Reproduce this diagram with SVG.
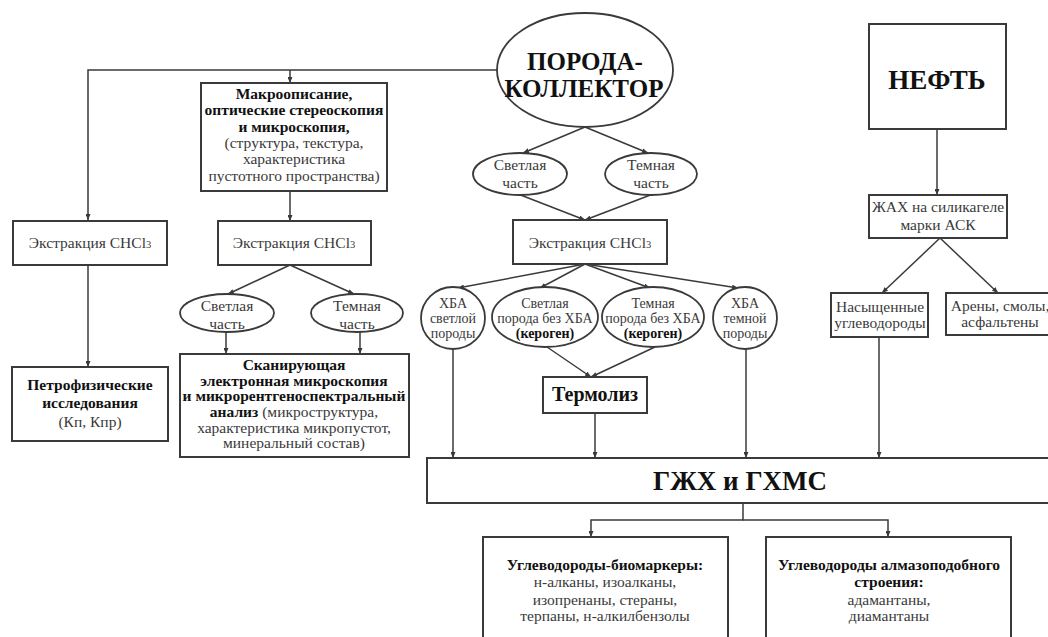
<svg xmlns="http://www.w3.org/2000/svg" width="1048" height="637" viewBox="0 0 1048 637">
<style>
  .box { fill: #fff; stroke: #3a3a3a; stroke-width: 2; }
  .ell { fill: #fff; stroke: #3a3a3a; stroke-width: 1.8; }
  .t { font-family: "Liberation Serif", "Times New Roman", serif; font-size: 15.5px; fill: #3a3a3a; text-anchor: middle; }
  .b { font-weight: bold; fill: #111; }
  .s { font-size: 15.5px; }
  .xs { font-size: 14px; }
  .tm { font-size: 20px; }
  .big { font-family: "Liberation Serif", "Times New Roman", serif; font-size: 27px; font-weight: bold; fill: #111; text-anchor: middle; }
  .pk { font-size: 25px; }
  .con { fill: none; stroke: #3a3a3a; stroke-width: 1.5; }
  .arr { marker-end: url(#ah); }
</style>
<defs>
  <marker id="ah" markerUnits="userSpaceOnUse" markerWidth="6" markerHeight="5" refX="6" refY="2.5" orient="auto">
    <path d="M0,0 L6,2.5 L0,5 z" fill="#3a3a3a"/>
  </marker>
</defs>
<rect width="1048" height="637" fill="#fff"/>

<g id="connectors">
  <path class="con arr" d="M497,70 H88 V220"/>
  <path class="con arr" d="M290,70 V83"/>
  <path class="con arr" d="M88,265 V367"/>
  <path class="con arr" d="M290,191 V221"/>
  <path class="con arr" d="M290,265 L228,294"/>
  <path class="con arr" d="M290,265 L354,294"/>
  <path class="con arr" d="M226,332 V354"/>
  <path class="con arr" d="M360,332 V354"/>
  <path class="con arr" d="M585,127 L523,153"/>
  <path class="con arr" d="M585,127 L648,153"/>
  <path class="con arr" d="M518,194 L585,220"/>
  <path class="con arr" d="M653,194 L585,220"/>
  <path class="con arr" d="M585,264 L458,288"/>
  <path class="con arr" d="M585,264 L540,288"/>
  <path class="con arr" d="M585,264 L650,288"/>
  <path class="con arr" d="M585,264 L738,288"/>
  <path class="con arr" d="M547,347 L591,377"/>
  <path class="con arr" d="M655,347 L591,377"/>
  <path class="con arr" d="M453,349 V458"/>
  <path class="con arr" d="M595,413 V458"/>
  <path class="con arr" d="M746,349 V458"/>
  <path class="con arr" d="M879,337 V458"/>
  <path class="con arr" d="M937,129 V195"/>
  <path class="con arr" d="M940,238 L882,293"/>
  <path class="con arr" d="M940,238 L998,293"/>
  <path class="con arr" d="M743,503 V520 H591 V537"/>
  <path class="con arr" d="M743,520 H888 V537"/>
</g>

<g id="poroda">
  <ellipse class="ell" cx="585" cy="70" rx="88" ry="57"/>
  <text class="big pk" x="585" y="70">ПОРОДА-</text>
  <text class="big pk" x="584" y="97">КОЛЛЕКТОР</text>
</g>

<g id="macro">
  <rect class="box" x="201" y="83" width="186" height="108"/>
  <text class="t b" x="294" y="99">Макроописание,</text>
  <text class="t b" x="294" y="115">оптические стереоскопия</text>
  <text class="t b" x="294" y="132">и микроскопия,</text>
  <text class="t" x="294" y="148">(структура, текстура,</text>
  <text class="t" x="294" y="164">характеристика</text>
  <text class="t" x="294" y="181">пустотного пространства)</text>
</g>

<g id="extr1">
  <rect class="box" x="13" y="221" width="154" height="44"/>
  <text class="t" x="90" y="248">Экстракция CHCl<tspan font-size="10.5">3</tspan></text>
</g>

<g id="extr2">
  <rect class="box" x="218" y="221" width="153" height="44"/>
  <text class="t" x="294" y="248">Экстракция CHCl<tspan font-size="10.5">3</tspan></text>
</g>

<g id="light2">
  <ellipse class="ell" cx="227" cy="313" rx="47" ry="19"/>
  <text class="t s" x="227" y="311">Светлая</text>
  <text class="t s" x="227" y="329">часть</text>
</g>

<g id="dark2">
  <ellipse class="ell" cx="357" cy="313" rx="46" ry="19"/>
  <text class="t s" x="357" y="311">Темная</text>
  <text class="t s" x="357" y="329">часть</text>
</g>

<g id="petro">
  <rect class="box" x="12" y="367" width="156" height="74"/>
  <text class="t b" x="90" y="390">Петрофизические</text>
  <text class="t b" x="90" y="408">исследования</text>
  <text class="t" x="90" y="427">(Кп, Кпр)</text>
</g>

<g id="scan">
  <rect class="box" x="180" y="354" width="229" height="103"/>
  <text class="t b" x="294" y="370">Сканирующая</text>
  <text class="t b" x="294" y="386">электронная микроскопия</text>
  <text class="t b" x="294" y="401">и микрорентгеноспектральный</text>
  <text class="t" x="294" y="417"><tspan class="b">анализ</tspan> (микроструктура,</text>
  <text class="t" x="294" y="433">характеристика микропустот,</text>
  <text class="t" x="294" y="448">минеральный состав)</text>
</g>

<g id="light1">
  <ellipse class="ell" cx="520" cy="174" rx="47" ry="21"/>
  <text class="t s" x="520" y="170">Светлая</text>
  <text class="t s" x="520" y="188">часть</text>
</g>

<g id="dark1">
  <ellipse class="ell" cx="651" cy="174" rx="46" ry="21"/>
  <text class="t s" x="651" y="170">Темная</text>
  <text class="t s" x="651" y="188">часть</text>
</g>

<g id="extr3">
  <rect class="box" x="513" y="220" width="154" height="44"/>
  <text class="t" x="590" y="248">Экстракция CHCl<tspan font-size="10.5">3</tspan></text>
</g>

<g id="hba-light">
  <ellipse class="ell" cx="453" cy="318" rx="32" ry="31"/>
  <text class="t xs" x="453" y="308">ХБА</text>
  <text class="t xs" x="453" y="323">светлой</text>
  <text class="t xs" x="453" y="338">породы</text>
</g>

<g id="light-rock">
  <ellipse class="ell" cx="545" cy="317" rx="53" ry="30"/>
  <text class="t xs" x="545" y="308">Светлая</text>
  <text class="t xs" x="545" y="323">порода без ХБА</text>
  <text class="t xs b" x="545" y="338">(кероген)</text>
</g>

<g id="dark-rock">
  <ellipse class="ell" cx="653" cy="317" rx="51" ry="30"/>
  <text class="t xs" x="653" y="308">Темная</text>
  <text class="t xs" x="653" y="323">порода без ХБА</text>
  <text class="t xs b" x="653" y="338">(кероген)</text>
</g>

<g id="hba-dark">
  <ellipse class="ell" cx="745" cy="318" rx="32" ry="31"/>
  <text class="t xs" x="745" y="308">ХБА</text>
  <text class="t xs" x="745" y="323">темной</text>
  <text class="t xs" x="745" y="338">породы</text>
</g>

<g id="termoliz">
  <rect class="box" x="543" y="377" width="104" height="36"/>
  <text class="t b tm" x="595" y="401">Термолиз</text>
</g>

<g id="neft">
  <rect class="box" x="869" y="24" width="137" height="105"/>
  <text class="big" x="937" y="89">НЕФТЬ</text>
</g>

<g id="zhah">
  <rect class="box" x="869" y="195" width="138" height="43"/>
  <text class="t" x="938" y="212">ЖАХ на силикагеле</text>
  <text class="t" x="938" y="230">марки АСК</text>
</g>

<g id="saturated">
  <rect class="box" x="831" y="293" width="97" height="44"/>
  <text class="t" x="880" y="312">Насыщенные</text>
  <text class="t" x="880" y="328">углеводороды</text>
</g>

<g id="arenes">
  <rect class="box" x="946" y="293" width="112" height="42"/>
  <text class="t" x="1000" y="311">Арены, смолы,</text>
  <text class="t" x="1000" y="327">асфальтены</text>
</g>

<g id="gzhx">
  <rect class="box" x="427" y="458" width="630" height="45"/>
  <text class="big" x="740" y="490">ГЖХ и ГХМС</text>
</g>

<g id="biomarkers">
  <rect class="box" x="483" y="537" width="245" height="112"/>
  <text class="t b" x="605" y="570">Углеводороды-биомаркеры:</text>
  <text class="t" x="605" y="587">н-алканы, изоалканы,</text>
  <text class="t" x="605" y="605">изопренаны, стераны,</text>
  <text class="t" x="605" y="621">терпаны, н-алкилбензолы</text>
</g>

<g id="diamondoids">
  <rect class="box" x="766" y="537" width="245" height="112"/>
  <text class="t b" x="889" y="570">Углеводороды алмазоподобного</text>
  <text class="t b" x="889" y="587">строения:</text>
  <text class="t" x="889" y="605">адамантаны,</text>
  <text class="t" x="889" y="621">диамантаны</text>
</g>
</svg>
